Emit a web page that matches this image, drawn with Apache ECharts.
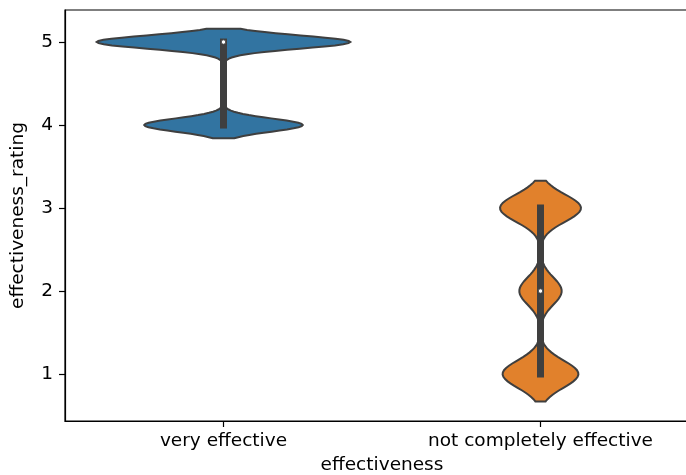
<!DOCTYPE html>
<html>
<head>
<meta charset="utf-8">
<script src="https://cdn.jsdelivr.net/npm/echarts@6/dist/echarts.min.js"></script>
<style>
  html, body { margin: 0; padding: 0; overflow: hidden; background: #fff; }
  #chart { width: 720px; height: 475px; }
</style>
</head>
<body>
<div id="chart"></div>
<script>
// Categories on the x axis
const categories = ['very effective', 'not completely effective'];
// Rating levels and how many responses fall on each level, per category
const ratingLevels = [1, 2, 3, 4, 5];
const veryEffectiveCounts = [0, 0, 0, 3250, 5200];
const notCompletelyEffectiveCounts = [1710, 955, 1825, 0, 0];
// Y axis ticks
const yTicks = [1, 2, 3, 4, 5];

const fillColors = ['#3274a1', '#e1812c'];
const edgeGray = '#3f3f3f';
const FONT = 'DejaVu Sans';

// Expand count tables into raw observations
function expand(counts) {
  const out = [];
  counts.forEach((n, k) => { for (let j = 0; j < n; j++) out.push(ratingLevels[k]); });
  return out;
}

function percentile(sorted, p) {
  const pos = (sorted.length - 1) * p / 100;
  const lo = Math.floor(pos), hi = Math.ceil(pos);
  return sorted[lo] + (sorted[hi] - sorted[lo]) * (pos - lo);
}

// Gaussian KDE with Scott's rule, support cut at 2 bandwidths past the data
function violinStats(values) {
  const n = values.length;
  const mean = values.reduce((a, b) => a + b, 0) / n;
  const sd = Math.sqrt(values.reduce((a, b) => a + (b - mean) * (b - mean), 0) / (n - 1));
  const bw = sd * Math.pow(n, -1 / 5);
  const sorted = values.slice().sort((a, b) => a - b);
  const lo = sorted[0] - 2 * bw, hi = sorted[n - 1] + 2 * bw;
  // distinct values with weights keep the evaluation cheap
  const uniq = {};
  values.forEach(v => { uniq[v] = (uniq[v] || 0) + 1; });
  const keys = Object.keys(uniq).map(Number);
  const gridSize = 100;
  const support = [], density = [];
  const norm = 1 / (n * bw * Math.sqrt(2 * Math.PI));
  for (let k = 0; k < gridSize; k++) {
    const y = lo + (hi - lo) * k / (gridSize - 1);
    let d = 0;
    keys.forEach(v => { const z = (y - v) / bw; d += uniq[v] * Math.exp(-0.5 * z * z); });
    support.push(y);
    density.push(d * norm);
  }
  const q25 = percentile(sorted, 25), q50 = percentile(sorted, 50), q75 = percentile(sorted, 75);
  const lim = 1.5 * (q75 - q25);
  const h1 = Math.min(...keys.filter(v => v >= q25 - lim));
  const h2 = Math.max(...keys.filter(v => v <= q75 + lim));
  return { support, density, q25, q50, q75, h1, h2 };
}

const violins = [veryEffectiveCounts, notCompletelyEffectiveCounts].map(c => violinStats(expand(c)));
const globalMax = Math.max(...violins.map(v => Math.max(...v.density)));

const chart = echarts.init(document.getElementById('chart'), null, { renderer: 'canvas' });

chart.setOption({
  animation: false,
  grid: {
    left: 65, right: 21, top: 10, bottom: 54,
    containLabel: false,
    outerBoundsMode: 'none',
    show: true, borderColor: '#000', borderWidth: 1.2, backgroundColor: 'transparent'
  },
  xAxis: {
    type: 'category',
    data: categories,
    boundaryGap: true,
    name: 'effectiveness',
    nameLocation: 'middle',
    nameGap: 33,
    nameTextStyle: { fontFamily: FONT, fontSize: 18.5, color: '#000' },
    axisLine: { show: true, lineStyle: { color: '#000', width: 1.2 } },
    axisTick: { show: true, alignWithLabel: true, length: 6, lineStyle: { color: '#000', width: 1.2 } },
    axisLabel: { fontFamily: FONT, fontSize: 18.5, color: '#000', margin: 11 },
    splitLine: { show: false }
  },
  yAxis: {
    type: 'value',
    min: 0.434,
    max: 5.386,
    name: 'effectiveness_rating',
    nameLocation: 'middle',
    nameGap: 37,
    nameRotate: 90,
    nameTextStyle: { fontFamily: FONT, fontSize: 18.5, color: '#000' },
    axisLine: { show: true, lineStyle: { color: '#000', width: 1.2 } },
    axisTick: { show: true, length: 6, customValues: yTicks, lineStyle: { color: '#000', width: 1.2 } },
    axisLabel: { fontFamily: FONT, fontSize: 18.5, color: '#000', margin: 12, customValues: yTicks },
    splitLine: { show: false }
  },
  series: [{
    type: 'custom',
    data: violins.map((v, i) => [i, v.q50]),
    encode: { x: 0, y: 1 },
    renderItem(params, api) {
      const i = api.value(0);
      const v = violins[i];
      const band = api.size([1, 0])[0];
      const half = band * 0.4;
      const right = [], left = [];
      v.support.forEach((y, k) => {
        const c = api.coord([i, y]);
        const w = v.density[k] / globalMax * half;
        right.push([c[0] + w, c[1]]);
        left.push([c[0] - w, c[1]]);
      });
      const pts = right.concat(left.reverse());
      const top = api.coord([i, v.h2]);
      const bot = api.coord([i, v.h1]);
      const q75 = api.coord([i, v.q75]);
      const q25 = api.coord([i, v.q25]);
      const med = api.coord([i, v.q50]);
      return {
        type: 'group',
        children: [
          { type: 'polygon', shape: { points: pts },
            style: { fill: fillColors[i], stroke: edgeGray, lineWidth: 2 } },
          { type: 'line', shape: { x1: top[0], y1: top[1], x2: bot[0], y2: bot[1] },
            style: { stroke: edgeGray, lineWidth: 2.5, lineCap: 'square' } },
          { type: 'line', shape: { x1: q75[0], y1: q75[1], x2: q25[0], y2: q25[1] },
            style: { stroke: edgeGray, lineWidth: 7, lineCap: 'square' } },
          { type: 'circle', shape: { cx: med[0], cy: med[1], r: 2.2 },
            style: { fill: '#fff', stroke: edgeGray, lineWidth: 0.8 } }
        ]
      };
    }
  }]
});
</script>
</body>
</html>
